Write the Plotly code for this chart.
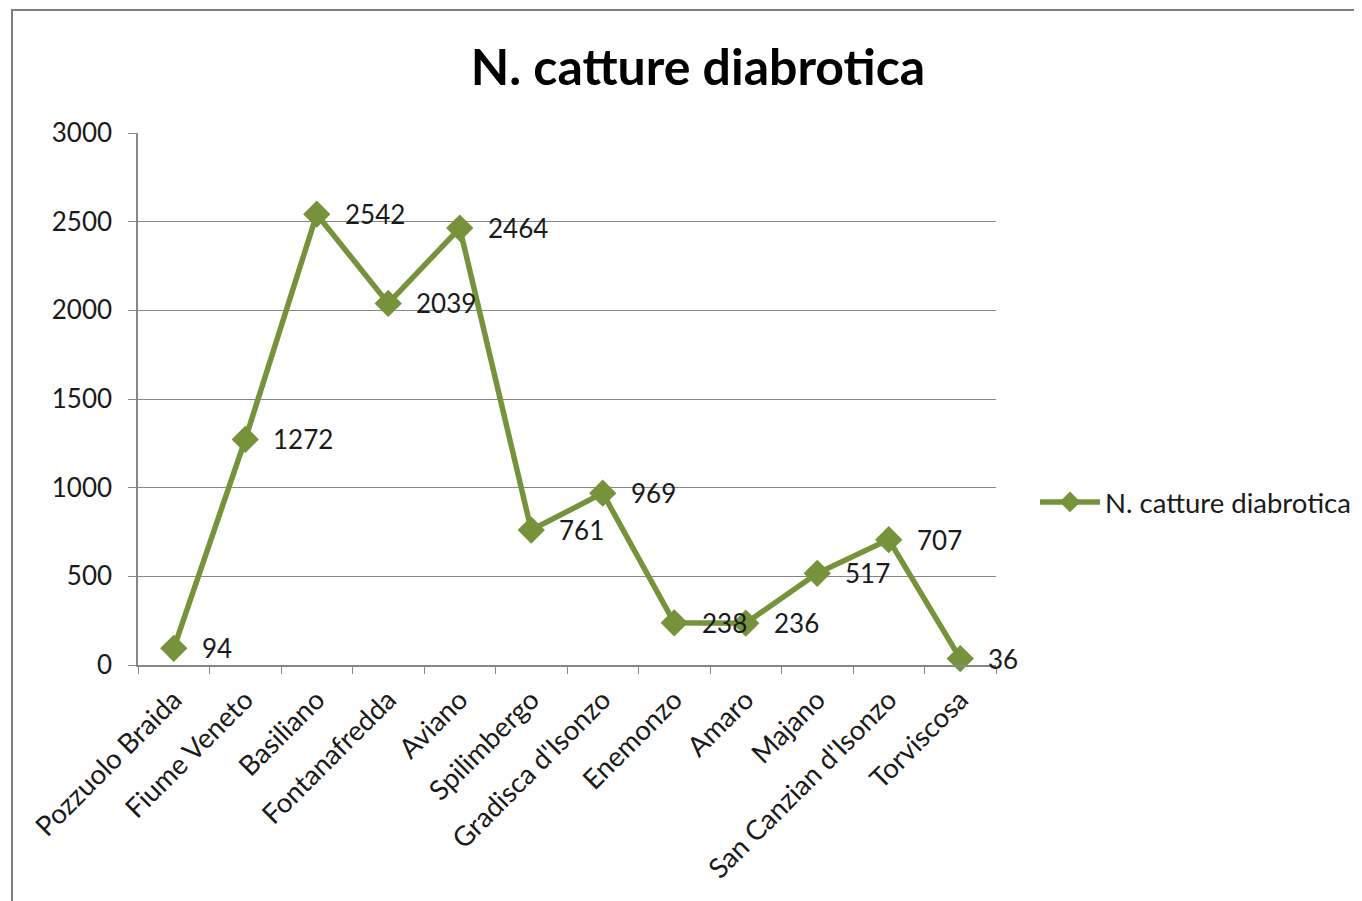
import plotly.graph_objects as go

categories = ["Pozzuolo Braida", "Fiume Veneto", "Basiliano", "Fontanafredda", "Aviano",
              "Spilimbergo", "Gradisca d'Isonzo", "Enemonzo", "Amaro", "Majano",
              "San Canzian d'Isonzo", "Torviscosa"]
values = [94, 1272, 2542, 2039, 2464, 761, 969, 238, 236, 517, 707, 36]
series_name = "N. catture diabrotica"
title_text = "N. catture diabrotica"
y_ticks = [0, 500, 1000, 1500, 2000, 2500, 3000]

GREEN = "#76933C"
GRID = "#878787"
FONT = "Lato, 'Open Sans', sans-serif"

# page body has an 8px margin, so target coordinates are shifted by 8px
OFF = 8
W, H = 1362 - OFF, 901 - OFF
L, R, T, B = 138 - OFF, 996 - OFF, 133 - OFF, 665 - OFF

fig = go.Figure()
fig.add_trace(go.Scatter(
    x=categories, y=values, mode="lines+markers", name=series_name,
    line=dict(color=GREEN, width=5.5),
    marker=dict(symbol="diamond", size=21, color=GREEN),
    cliponaxis=False,
))

annotations = []
for c, v in zip(categories, values):
    annotations.append(dict(x=c, y=v, xref="x", yref="y", text=str(v), showarrow=False,
                            xanchor="left", yanchor="middle", xshift=26,
                            font=dict(family=FONT, size=26, color="#1a1a1a")))

pw, ph = R - L, B - T
def px_x(p):
    return (p - OFF - L) / pw
def px_y(p):
    return (B - (p - OFF)) / ph

fig.update_layout(
    width=W, height=H,
    margin=dict(l=L, r=W - R, t=T, b=H - B, autoexpand=False),
    paper_bgcolor="white", plot_bgcolor="white",
    title=dict(text="<b>" + title_text + "</b>", x=px_x(698), xref="paper", xanchor="center",
               y=1 - (67 - OFF) / H, yanchor="middle",
               font=dict(family=FONT, size=50, color="#000000")),
    showlegend=True,
    legend=dict(x=px_x(1035), y=px_y(502), xanchor="left", yanchor="middle",
                font=dict(family=FONT, size=27.5, color="#1a1a1a"),
                bgcolor="rgba(0,0,0,0)", itemwidth=60),
    annotations=annotations,
    shapes=[dict(type="rect", xref="paper", yref="paper",
                 x0=px_x(12), x1=px_x(1420), y0=px_y(960), y1=px_y(10),
                 line=dict(color="#7f7f7f", width=2), fillcolor="rgba(0,0,0,0)", layer="below")],
)
fig.update_xaxes(
    type="category", tickson="boundaries", ticks="outside", ticklen=7, tickcolor=GRID,
    showline=True, linecolor=GRID, linewidth=1.5, showgrid=False,
    tickangle=-45, tickfont=dict(family=FONT, size=27.5, color="#1a1a1a"),
    range=[-0.5, len(categories) - 0.5], ticklabelstandoff=6,
)
fig.update_yaxes(
    range=[0, 3000], tickvals=y_ticks, ticks="outside", ticklen=8, tickcolor=GRID,
    showline=True, linecolor=GRID, linewidth=1.5, showgrid=True, gridcolor=GRID, gridwidth=1,
    zeroline=False, tickfont=dict(family=FONT, size=26, color="#1a1a1a"),
    ticklabelstandoff=11,
)

fig.write_html("out.html")
